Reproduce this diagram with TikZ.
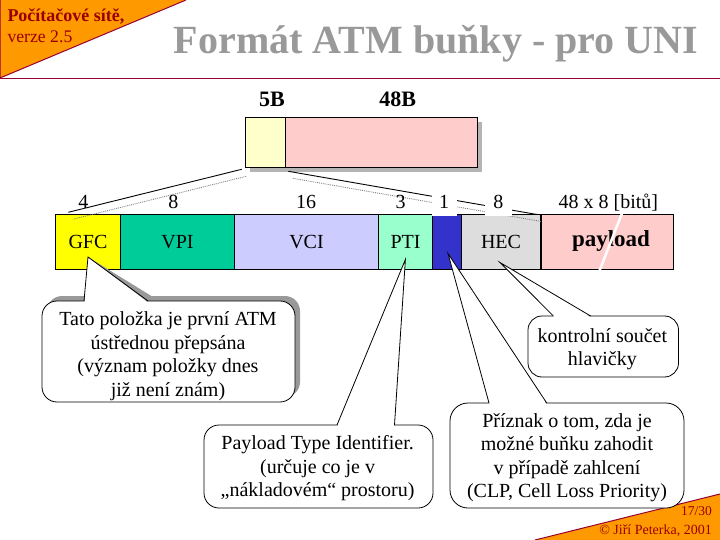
\documentclass[tikz,border=0pt]{standalone}
\usepackage{fontspec}
\setmainfont{Liberation Serif}
\newcommand{\fsz}[2]{\fontsize{#1}{#2}\selectfont}
\definecolor{orng}{HTML}{FF9900}
\definecolor{hdrline}{HTML}{990033}
\definecolor{hdrtext}{HTML}{990000}
\definecolor{titlegray}{HTML}{999999}
\definecolor{shadowgray}{HTML}{999999}
\definecolor{boxshade}{HTML}{B4B4B4}
\definecolor{hdrcol}{HTML}{FFFFCC}
\definecolor{paycol}{HTML}{FFCCCC}
\definecolor{gfccol}{HTML}{FFFF00}
\definecolor{vpicol}{HTML}{00CC99}
\definecolor{vcicol}{HTML}{CCCCFF}
\definecolor{pticol}{HTML}{99FFCC}
\definecolor{clpcol}{HTML}{3333CC}
\definecolor{heccol}{HTML}{DDDDDD}
\tikzset{
  cellbox/.style={draw, line width=1pt, inner sep=0pt, anchor=north west, minimum height=50pt},
  field/.style={draw, line width=1pt, inner sep=0pt, anchor=west, minimum height=54pt,
                text height=13.5pt, text depth=0pt, font=\fsz{20}{23}},
  bitnum/.style={anchor=base, inner sep=0pt, font=\fsz{20}{23}},
  bitnumw/.style={bitnum, fill=white, text height=18.5pt, text depth=8pt},
  thinline/.style={line width=0.9pt},
  shadowline/.style={densely dotted, line width=0.9pt, gray},
  callbox/.style={draw, fill=white, line width=0.8pt},
  calline/.style={line width=0.8pt, line join=miter},
  ctext/.style={align=center, inner sep=0pt, font=\fsz{20}{23.5}},
}
\begin{document}
\begin{tikzpicture}[x=1pt,y=-1pt]
\useasboundingbox (0,0) rectangle (720,540);
% ---------- header ----------
\fill[orng] (0,0) -- (186,0) -- (0,78) -- cycle;
\draw[hdrline, line width=1pt] (186,0) -- (0,78) -- (0,0);
\draw[hdrline, line width=1.5pt] (0,78.5) -- (720,78.5);
\node[anchor=base west, inner sep=0pt, font=\bfseries\fsz{18}{20}, text=hdrtext] (course) at (7.3,21.7) {Počítačové sítě,};
\node[anchor=base west, inner sep=0pt, font=\fsz{17.7}{20}, text=hdrtext] (version) at (7.3,42.7) {verze 2.5};
\node[anchor=base, inner sep=0pt, font=\bfseries\fsz{40}{46}, text=titlegray] (title) at (436,53.3) {Formát ATM buňky - pro UNI};
% ---------- footer ----------
\fill[orng] (535,540) -- (720,494) -- (720,540) -- cycle;
\draw[hdrline, line width=1pt] (535,540) -- (720,494);
\node[anchor=base east, inner sep=0pt, font=\fsz{13.5}{15}, text=hdrtext] (pagenum) at (712,515) {17/30};
\node[anchor=base east, inner sep=0pt, font=\fsz{14}{16}, text=hdrtext] (copyr) at (712,534) {© Jiří Peterka, 2001};
% ---------- ATM cell ----------
\fill[boxshade] (250,122.5) rectangle (481.7,172.5);
\node[cellbox, fill=hdrcol, minimum width=40pt] (hdr) at (245,117.5) {};
\node[cellbox, fill=paycol, minimum width=191.7pt] (pay) at (285,117.5) {};
\node[anchor=base, inner sep=0pt, font=\bfseries\fsz{22}{26}] (l5) at (272,106.5) {5B};
\node[anchor=base, inner sep=0pt, font=\bfseries\fsz{22}{26}] (l48) at (397.8,106.5) {48B};
% ---------- header fields ----------
\node[field, fill=gfccol, minimum width=65pt] (gfc) at (55,242) {GFC};
\node[field, fill=vpicol, minimum width=114pt] (vpi) at (120,242) {VPI};
\node[field, fill=vcicol, minimum width=144pt] (vci) at (234,242) {VCI};
\node[field, fill=pticol, minimum width=54pt] (pti) at (378,242) {PTI};
\node[field, fill=clpcol, minimum width=29pt] (clp) at (432,242) {};
\node[field, fill=heccol, minimum width=79pt] (hec) at (461,242) {HEC};
\node[field, fill=paycol, minimum width=132pt, font=\bfseries\fsz{23}{26}, text height=10pt] (payload) at (541,242) {\hspace*{7pt}payload};
% ---------- expansion lines ----------
\coordinate (a1) at (241.7,169.3);
\coordinate (a2) at (68.3,212.3);
\coordinate (b1) at (288.3,171.3);
\coordinate (b2) at (537,214.5);
\draw[shadowline] ([shift={(4.5,7)}]a1) -- ([shift={(4.5,7)}]a2);
\draw[shadowline] ([shift={(4.5,7)}]b1) -- ([shift={(4.5,7)}]b2);
\draw[thinline] (a1) -- (a2);
\draw[thinline] (b1) -- (b2);
% ---------- bit counts ----------
\node[bitnum] (n4) at (83.3,208.5) {4};
\node[bitnum] (n8a) at (173.3,208.5) {8};
\node[bitnum] (n16) at (306,208.5) {16};
\node[bitnum] (n3) at (400.7,208.5) {3};
\node[bitnumw, minimum width=25pt] (n1) at (444.2,208.5) {1};
\node[bitnumw, minimum width=26.7pt] (n8b) at (498.3,208.5) {8};
\node[bitnum] (n384) at (608.3,208.5) {48 x 8 [bitů]};
\draw[white, line width=2.5pt] (622.5,212) -- (599,272);
% ---------- GFC callout (with shadow) ----------
\coordinate (gtip) at (88,257);
\begin{scope}[shift={(5,-5)}]
  \fill[shadowgray, rounded corners=15pt] (42,301) rectangle (295,402);
  \fill[shadowgray] (84,302) -- (gtip) -- (148,302) -- cycle;
\end{scope}
\draw[callbox, rounded corners=15pt] (42,301) rectangle (295,402);
\fill[white] (84.6,302) -- (gtip) -- (147.4,302) -- cycle;
\draw[calline] (84,301) -- (gtip) -- (148,301);
\node[ctext] (gtext) at (168,356) {Tato položka je první ATM\\ústřednou přepsána\\(význam položky dnes\\již není znám)};
% ---------- PTI callout ----------
\coordinate (ptip) at (405.4,259.5);
\draw[callbox, rounded corners=15pt] (204,425) rectangle (433,508);
\fill[white] (337.6,426) -- (ptip) -- (393.9,426) -- cycle;
\draw[calline] (337,425) -- (ptip) -- (394.5,425);
\node[ctext] (ptext) at (317.6,468.5) {Payload Type Identifier.\\(určuje co je v\\„nákladovém“ prostoru)};
% ---------- CLP callout ----------
\coordinate (ctip) at (448,253.5);
\draw[callbox, rounded corners=18pt] (450,403) rectangle (684,508);
\fill[white] (489.6,404) -- (ctip) -- (546.1,404) -- cycle;
\draw[calline] (489,403) -- (ctip) -- (546.7,403);
\node[ctext] (ctext) at (567,457.7) {Příznak o tom, zda je\\možné buňku zahodit\\v případě zahlcení\\(CLP, Cell Loss Priority)};
% ---------- HEC callout ----------
\coordinate (htip) at (500,262.5);
\draw[callbox, rounded corners=14pt] (528,316) rectangle (678.5,377);
\fill[white] (554,317) -- (htip) -- (590,317) -- cycle;
\draw[calline] (553.4,316) -- (htip) -- (590.6,316);
\node[ctext] (htext) at (602.4,349) {kontrolní součet\\hlavičky};
\end{tikzpicture}
\end{document}
